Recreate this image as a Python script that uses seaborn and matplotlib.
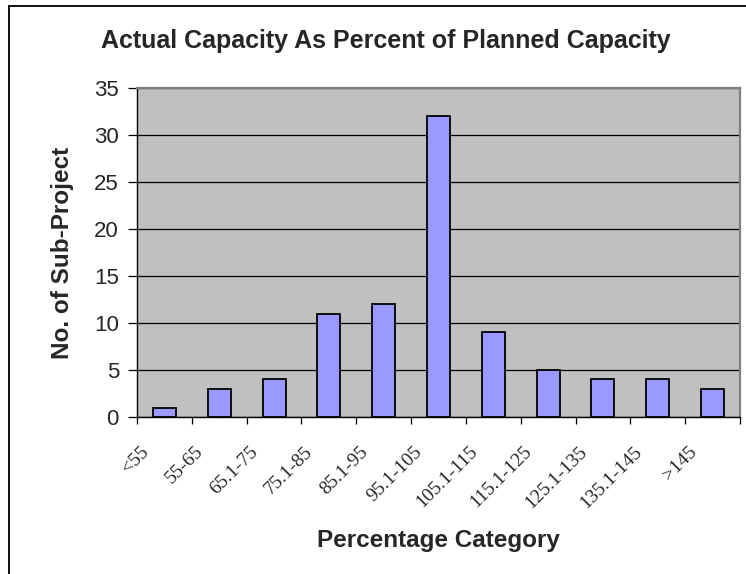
import matplotlib
matplotlib.use("Agg")
import matplotlib.pyplot as plt
import seaborn as sns
import pandas as pd
import numpy as np
from matplotlib.lines import Line2D

# Distribution of sub-projects by actual/planned capacity ratio
categories = ["<55", "55-65", "65.1-75", "75.1-85", "85.1-95", "95.1-105",
              "105.1-115", "115.1-125", "125.1-135", "135.1-145", ">145"]
counts = [1, 3, 4, 11, 12, 32, 9, 5, 4, 4, 3]
y_ticks = [0, 5, 10, 15, 20, 25, 30, 35]

df = pd.DataFrame({"category": categories, "count": counts})

sns.set_style("white")
plt.rcParams["font.family"] = ["Liberation Sans", "DejaVu Sans"]

fig = plt.figure(figsize=(7.46, 5.74), dpi=100)
ax = fig.add_axes([137 / 746, 1 - 417 / 574, 603 / 746, 329 / 574])
ax.set_facecolor("#C0C0C0")

sns.barplot(data=df, x="category", y="count", order=categories,
            color="#9999FF", edgecolor="black", linewidth=1.3,
            width=0.42, saturation=1, ax=ax, zorder=3)

ax.set_ylim(0, 35)
ax.set_xlim(-0.5, len(categories) - 0.5)
ax.set_yticks(y_ticks)
ax.yaxis.grid(True, color="black", linewidth=0.9, zorder=1)
ax.set_axisbelow(True)

# slanted category labels end just left of each bar's centre;
# tick marks sit on the category boundaries
n = len(categories)
ax.set_xticks(np.arange(n) - 0.34)
ax.set_xticklabels(categories, rotation=45, ha="right", va="center",
                   rotation_mode="anchor", family="Liberation Serif",
                   fontsize=14)
ax.set_xticks(np.arange(n + 1) - 0.5, minor=True)
ax.tick_params(axis="x", which="major", length=0, pad=23)
ax.tick_params(axis="x", which="minor", length=5, width=0.9,
               color="black", direction="out", bottom=True)
ax.tick_params(axis="y", which="major", length=6.5, width=0.9,
               color="black", direction="out", left=True, labelsize=16,
               pad=6.5)

for side in ["left", "bottom"]:
    ax.spines[side].set_color("black")
    ax.spines[side].set_linewidth(1.0)
for side in ["top", "right"]:
    ax.spines[side].set_color("#808080")
    ax.spines[side].set_linewidth(1.6)

ax.set_xlabel("Percentage Category", fontsize=17.5, fontweight="bold")
ax.xaxis.set_label_coords(0.5, (417 - 540) / 329)
ax.xaxis.label.set_verticalalignment("center")
ax.set_ylabel("No. of Sub-Project", fontsize=17.5, fontweight="bold")
ax.yaxis.set_label_coords((63 - 137) / 603, 0.5)
ax.yaxis.label.set_verticalalignment("center")

fig.text(386 / 746, 1 - 41 / 574, "Actual Capacity As Percent of Planned Capacity",
         ha="center", va="center", fontsize=18, fontweight="bold")

# chart frame (top and left edges)
fig.add_artist(Line2D([8.5 / 746, 8.5 / 746], [0, 1 - 5.5 / 574],
                      transform=fig.transFigure, color="black", linewidth=1.3))
fig.add_artist(Line2D([8.5 / 746, 1], [1 - 5.5 / 574, 1 - 5.5 / 574],
                      transform=fig.transFigure, color="black", linewidth=1.3))

fig.savefig("out.png", dpi=100, facecolor="white")
